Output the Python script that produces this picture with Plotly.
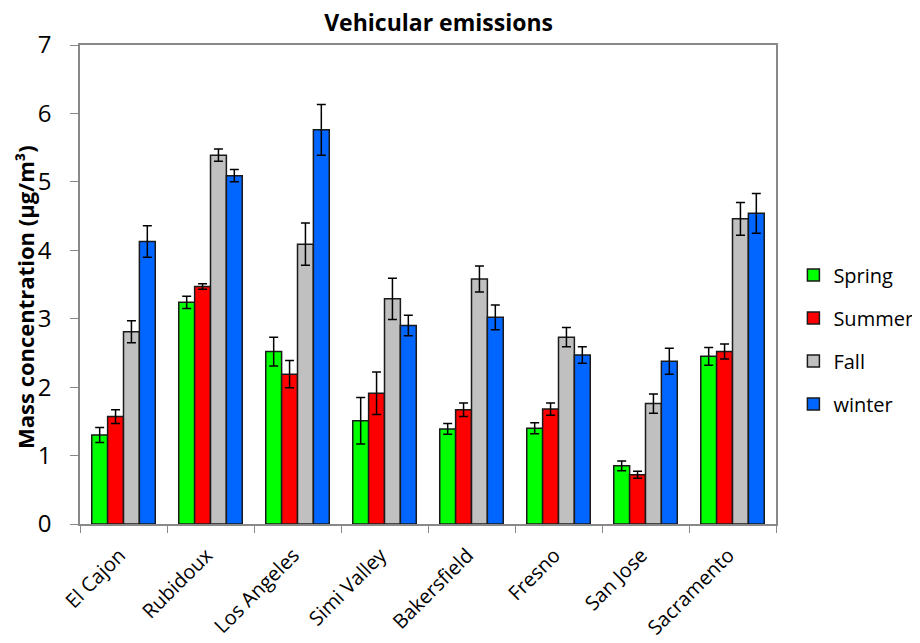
import plotly.graph_objects as go

cities = ["El Cajon", "Rubidoux", "Los Angeles", "Simi Valley", "Bakersfield", "Fresno", "San Jose", "Sacramento"]
spring = [1.30, 3.24, 2.52, 1.51, 1.39, 1.40, 0.85, 2.45]
spring_err = [0.11, 0.09, 0.21, 0.34, 0.08, 0.08, 0.07, 0.13]
summer = [1.57, 3.47, 2.19, 1.91, 1.67, 1.68, 0.72, 2.52]
summer_err = [0.10, 0.04, 0.20, 0.31, 0.10, 0.09, 0.05, 0.11]
fall = [2.81, 5.39, 4.09, 3.29, 3.58, 2.73, 1.76, 4.46]
fall_err = [0.16, 0.09, 0.31, 0.30, 0.19, 0.14, 0.14, 0.24]
winter = [4.13, 5.09, 5.76, 2.90, 3.02, 2.47, 2.38, 4.54]
winter_err = [0.23, 0.09, 0.37, 0.15, 0.18, 0.12, 0.19, 0.29]

series = [
    ("Spring", spring, spring_err, "#00FF00"),
    ("Summer", summer, summer_err, "#FF0000"),
    ("Fall", fall, fall_err, "#C0C0C0"),
    ("winter", winter, winter_err, "#0066FF"),
]

FONT = "Open Sans, Lato, sans-serif"

fig = go.Figure()
for i, (name, vals, errs, col) in enumerate(series):
    fig.add_trace(go.Bar(
        x=cities, y=vals, name=name, legendgroup=name,
        marker=dict(color=col, line=dict(color="#1a1a1a", width=1.5)),
        error_y=dict(type="data", array=errs, visible=True, color="black", thickness=1.5, width=4.5),
    ))

fig.update_layout(
    width=920, height=643,
    paper_bgcolor="white", plot_bgcolor="white",
    barmode="group", bargap=0.27, bargroupgap=0,
    margin=dict(l=72, r=152, t=37, b=127, autoexpand=False),
    title=dict(text="<b>Vehicular emissions</b>", x=0.468, xanchor="center", y=0.99, yanchor="top",
               font=dict(family=FONT, size=23, color="black")),
    font=dict(family=FONT, color="black"),
    legend=dict(x=1.025, xanchor="left", y=0.385, yanchor="middle",
                font=dict(family=FONT, size=20, color="black"),
                tracegroupgap=14, itemwidth=30),
    showlegend=True,
    annotations=[dict(
        text="<b>Mass concentration (µg/m³)</b>", textangle=-90,
        xref="paper", yref="paper", x=0, y=0.474, xanchor="center", yanchor="middle",
        xshift=-55, showarrow=False, font=dict(family=FONT, size=22, color="black"),
    )],
)
fig.update_xaxes(
    type="category", tickson="boundaries", ticks="outside", ticklen=7, tickcolor="#888888",
    showline=True, linecolor="#888888", linewidth=1.5, mirror=True,
    tickangle=-45, tickfont=dict(family=FONT, size=20, color="black"),
    ticklabelstandoff=10, ticklabelshift=-4, automargin=False,
)
fig.update_yaxes(
    range=[0, 7], dtick=1, ticks="outside", ticklen=8, tickcolor="#888888",
    showline=True, linecolor="#888888", linewidth=1.5, mirror=True, showgrid=False, zeroline=False,
    tickfont=dict(family=FONT, size=24, color="black"), ticklabelstandoff=14, automargin=False,
)

fig.write_html("out.html")
